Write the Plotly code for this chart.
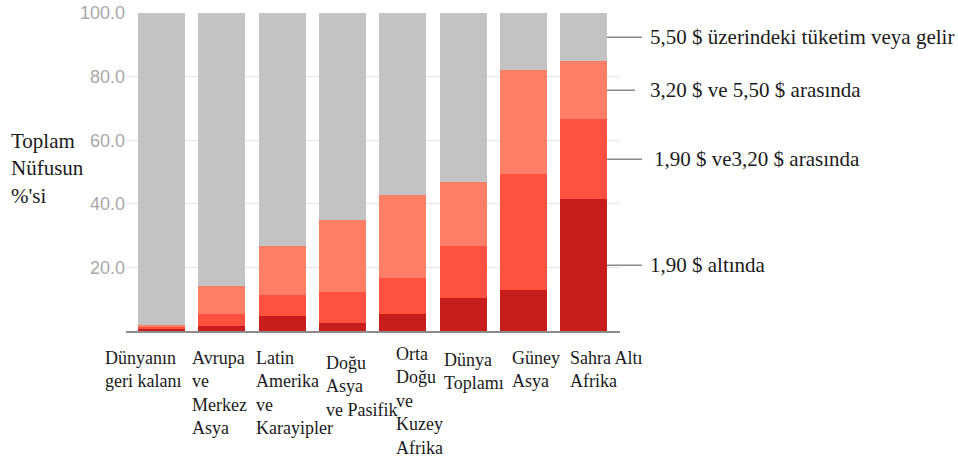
import plotly.graph_objects as go

categories = ["Dünyanın<br>geri kalanı", "Avrupa<br>ve<br>Merkez<br>Asya", "Latin<br>Amerika<br>ve<br>Karayipler",
              "Doğu<br>Asya<br>ve Pasifik", "Orta<br>Doğu<br>ve<br>Kuzey<br>Afrika", "Dünya<br>Toplamı",
              "Güney<br>Asya", "Sahra Altı<br>Afrika"]
cat_ids = ["c0", "c1", "c2", "c3", "c4", "c5", "c6", "c7"]

below_190 = [0.7, 1.6, 4.7, 2.6, 5.5, 10.4, 12.9, 41.4]
between_190_320 = [0.8, 3.9, 6.5, 9.8, 11.3, 16.3, 36.6, 25.2]
between_320_550 = [0.4, 8.7, 15.5, 22.5, 26.0, 20.0, 32.7, 18.2]
above_550 = [round(100 - a - b - c, 1) for a, b, c in zip(below_190, between_190_320, between_320_550)]

series_names = ["1,90 $ altında", "1,90 $ ve3,20 $ arasında", "3,20 $ ve 5,50 $ arasında",
                "5,50 $ üzerindeki tüketim veya gelir"]
series_values = [below_190, between_190_320, between_320_550, above_550]
series_colors = ["#C81D1D", "#FF5140", "#FF7F66", "#C3C3C3"]

y_tickvals = [20, 40, 60, 80, 100]

fig = go.Figure()
for name, vals, col in zip(series_names, series_values, series_colors):
    fig.add_trace(go.Bar(x=cat_ids, y=vals, name=name, marker=dict(color=col, line=dict(width=0)),
                         showlegend=False))

L, R, T, B = 126, 338, 13, 128
W, H = 958, 459
pw = W - L - R
ph = H - T - B

fig.update_layout(
    width=W, height=H, barmode="stack", bargap=0.22,
    margin=dict(l=L, r=R, t=T, b=B, autoexpand=False),
    plot_bgcolor="white", paper_bgcolor="white",
    xaxis=dict(range=[-0.59, 7.6], showticklabels=False, showgrid=False, ticks="",
               showline=True, linecolor="#8c8c8c", linewidth=1.5, zeroline=False, automargin=False),
    yaxis=dict(range=[0, 100], tickvals=y_tickvals, tickformat=".1f", showgrid=True,
               gridcolor="#e6e6e6", gridwidth=1, zeroline=False, ticks="", automargin=False,
               tickfont=dict(family="Liberation Sans, Arial", size=18, color="#a8a8a8"),
               ticklabelstandoff=0),
    font=dict(family="Liberation Serif, Times New Roman, serif", color="#1a1a1a"),
)

# x category labels (left-aligned, offset from bar centre in px)
label_shift = [-59, -32, -28, -19, -9, -21, -13, -16]
label_y = [346, 346, 346, 351, 342, 348, 346, 346]
for cid, lab, sh, ly in zip(cat_ids, categories, label_shift, label_y):
    fig.add_annotation(x=cid, xref="x", y=1 - (ly - T) / ph, yref="paper",
                       text=lab, showarrow=False, xanchor="left", yanchor="top", align="left",
                       xshift=sh, font=dict(size=18, color="#1a1a1a"))

# y title
fig.add_annotation(x=(9 - L) / pw, xref="paper", y=1 - (127 - T) / ph, yref="paper",
                   text="Toplam<br>Nüfusun<br>%'si", showarrow=False, xanchor="left", yanchor="top",
                   align="left", font=dict(size=21, color="#1a1a1a"))

# right-hand labels with leader lines at segment midpoints of last bar
last = [v[-1] for v in series_values]
cum = 0
line_end = [642, 642, 635, 642]
text_start = [648, 652, 648, 648]
for name, v, le, ts in zip(series_names, last, line_end, text_start):
    mid = cum + v / 2
    cum += v
    fig.add_shape(type="line", xref="paper", yref="y", x0=(607 - L) / pw, x1=(le - L) / pw,
                  y0=mid, y1=mid, line=dict(color="#8a8a8a", width=1.5))
    fig.add_annotation(x=(ts - L) / pw, xref="paper", y=mid, yref="y", text=name, showarrow=False,
                       xanchor="left", yanchor="middle", font=dict(size=21, color="#1a1a1a"))

fig.write_html("out.html", config={"displayModeBar": False},
               post_script="document.body.style.margin='0';")
